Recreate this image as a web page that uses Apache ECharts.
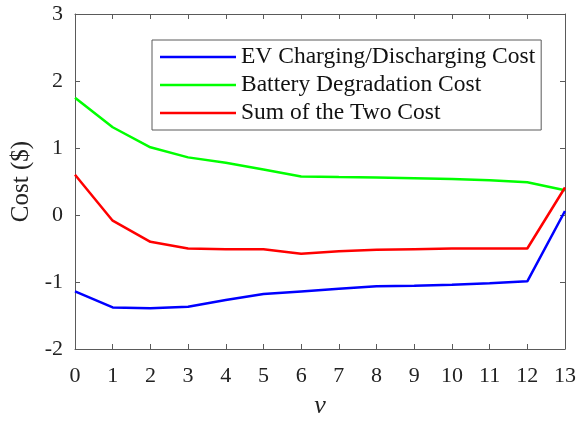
<!DOCTYPE html>
<html>
<head>
<meta charset="utf-8">
<script src="https://cdn.jsdelivr.net/npm/echarts@6/dist/echarts.min.js"></script>
<style>html,body{margin:0;padding:0;background:#fff;}#c{width:579px;height:424px;}</style>
</head>
<body>
<div id="c"></div>
<script>
var nu = [0,1,2,3,4,5,6,7,8,9,10,11,12,13];
var evCost = [-1.14,-1.38,-1.39,-1.37,-1.27,-1.18,-1.14,-1.10,-1.065,-1.055,-1.04,-1.02,-0.99,0.06];
var degCost = [1.75,1.31,1.01,0.86,0.78,0.68,0.575,0.567,0.56,0.55,0.537,0.52,0.49,0.37];
var sumCost = [0.60,-0.085,-0.40,-0.50,-0.51,-0.51,-0.58,-0.54,-0.52,-0.51,-0.50,-0.50,-0.50,0.41];
var seriesNames = ['EV Charging/Discharging Cost','Battery Degradation Cost','Sum of the Two Cost'];

function pairs(ys){ return nu.map(function(x,i){ return [x, ys[i]]; }); }
var font = 'Liberation Serif';
var axisColor = '#5a5a5a';
var chart = echarts.init(document.getElementById('c'), null, {renderer:'canvas'});
function baseX(pos, show){
  return {type:'value', position:pos, min:0, max:13, interval:1,
    axisLine:{show:true, onZero:false, lineStyle:{color:axisColor, width:1}},
    axisTick:{show:true, inside:true, length:5, lineStyle:{color:axisColor}},
    axisLabel:{show:show, fontFamily:font, fontSize:22, color:'#222', margin:16},
    splitLine:{show:false}};
}
function baseY(pos, show){
  return {type:'value', position:pos, min:-2, max:3, interval:1,
    axisLine:{show:true, onZero:false, lineStyle:{color:axisColor, width:1}},
    axisTick:{show:true, inside:true, length:5, lineStyle:{color:axisColor}},
    axisLabel:{show:show, fontFamily:font, fontSize:22, color:'#222', margin:12},
    splitLine:{show:false}};
}
var xb = baseX('bottom', true);
xb.name = 'ν'; xb.nameLocation = 'middle'; xb.nameGap = 44;
xb.nameTextStyle = {fontFamily:font, fontSize:26, fontStyle:'italic', color:'#222'};
var xt = baseX('top', false);
var yl = baseY('left', true);
yl.name = 'Cost ($)'; yl.nameLocation = 'middle'; yl.nameGap = 38;
yl.nameTextStyle = {fontFamily:font, fontSize:25, color:'#222'};
var yr = baseY('right', false);

function line(name, data, color){
  return {name:name, type:'line', data:pairs(data), symbol:'none', xAxisIndex:0, yAxisIndex:0,
    lineStyle:{color:color, width:2.5}, itemStyle:{color:color}, clip:false};
}
chart.setOption({
  animation:false,
  backgroundColor:'#fff',
  grid:{left:75, right:12, top:14, bottom:75, containLabel:false},
  xAxis:[xb, xt],
  yAxis:[yl, yr],
  legend:{show:true, orient:'vertical', left:152, top:40, data:seriesNames,
    borderColor:'#5a5a5a', borderWidth:1, padding:[3,6,3,8], itemGap:0,
    icon:'rect', itemWidth:76, itemHeight:2.5, backgroundColor:'#fff',
    textStyle:{fontFamily:font, fontSize:23.5, color:'#111', lineHeight:28, height:28}},
  series:[line(seriesNames[0], evCost, '#0000ff'), line(seriesNames[1], degCost, '#00ff00'), line(seriesNames[2], sumCost, '#ff0000')]
});
</script>
</body>
</html>
